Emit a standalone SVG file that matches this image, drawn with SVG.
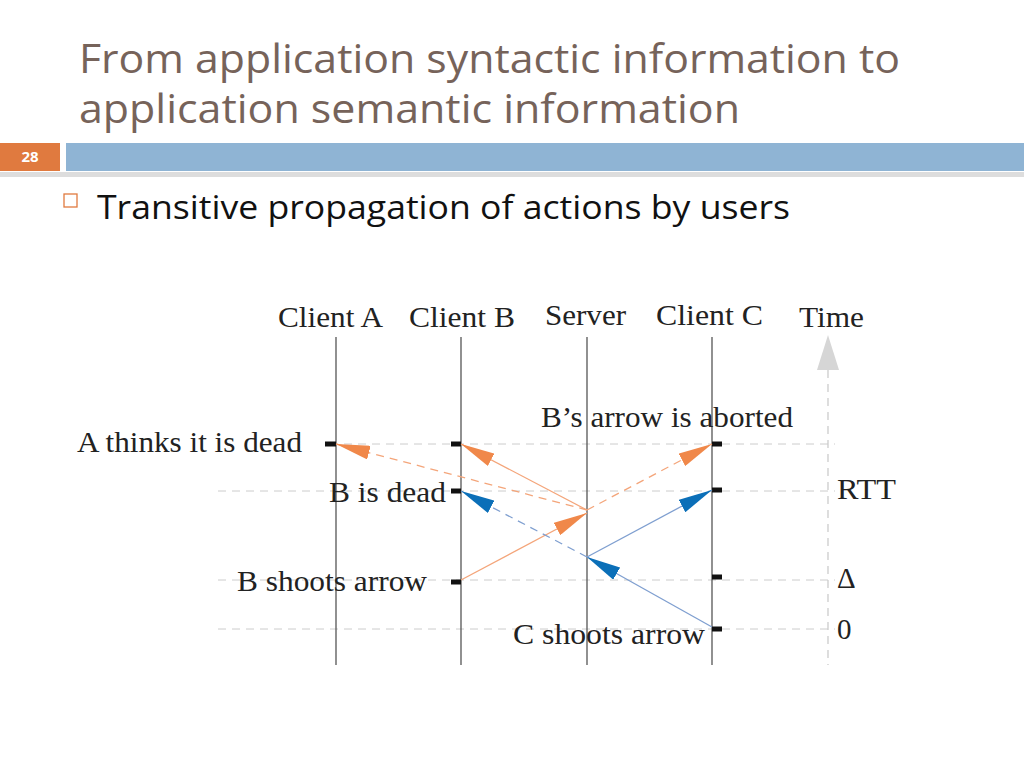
<svg xmlns="http://www.w3.org/2000/svg" width="1024" height="768" viewBox="0 0 1024 768">
<defs>
<marker id="mo" viewBox="0 0 34 14" refX="34" refY="7" markerWidth="34" markerHeight="14" markerUnits="userSpaceOnUse" orient="auto"><path d="M0,0 L34,7 L0,14 z" fill="#f0884a"/></marker>
<marker id="mb" viewBox="0 0 34 14" refX="34" refY="7" markerWidth="34" markerHeight="14" markerUnits="userSpaceOnUse" orient="auto"><path d="M0,0 L34,7 L0,14 z" fill="#0b6fb8"/></marker>
</defs>
<style>
.t{font-family:"Liberation Serif",serif;font-size:29px;fill:#222}
.life{stroke:#555;stroke-width:1.3}
.grid{stroke:#ccc;stroke-width:1;stroke-dasharray:8 6}
.tick{stroke:#111;stroke-width:5}
.o{stroke:#f4a57a;stroke-width:1.3;fill:none}
.b{stroke:#7f9fd0;stroke-width:1.3;fill:none}
.d{stroke-dasharray:8 6}
</style>
<rect width="1024" height="768" fill="#fff"/>
<text x="79" y="73" font-family="Open Sans,sans-serif" font-size="40" fill="#76635a" textLength="821" lengthAdjust="spacingAndGlyphs">From application syntactic information to</text>
<text x="79" y="123" font-family="Open Sans,sans-serif" font-size="40" fill="#76635a" textLength="661" lengthAdjust="spacingAndGlyphs">application semantic information</text>
<rect x="0" y="172" width="1024" height="5" fill="#ddd"/>
<rect x="0" y="143" width="60" height="28" fill="#e07a3f"/>
<rect x="66" y="143" width="958" height="28" fill="#8fb4d4"/>
<text x="30" y="162" text-anchor="middle" font-family="Open Sans,sans-serif" font-weight="bold" font-size="15" fill="#fff">28</text>
<rect x="64" y="194" width="13" height="13" fill="none" stroke="#e07a3f" stroke-width="1.3"/>
<text x="97" y="219" font-family="Open Sans,sans-serif" font-size="33" fill="#111" textLength="693" lengthAdjust="spacingAndGlyphs">Transitive propagation of actions by users</text>
<g id="grid">
<line class="grid" x1="330" y1="444" x2="835" y2="444"/>
<line class="grid" x1="218" y1="491" x2="835" y2="491"/>
<line class="grid" x1="218" y1="580" x2="835" y2="580"/>
<line class="grid" x1="218" y1="629" x2="835" y2="629"/>
</g>
<g id="time">
<line x1="828" y1="370" x2="828" y2="665" stroke="#ccc" stroke-width="1.3" stroke-dasharray="8 6"/>
<path d="M817,370 L828,335 L839,370 z" fill="#d6d6d6"/>
<text class="t" x="799" y="327" textLength="65" lengthAdjust="spacingAndGlyphs">Time</text>
</g>
<g id="lifelines">
<line class="life" x1="336" y1="337" x2="336" y2="665"/>
<line class="life" x1="461" y1="337" x2="461" y2="665"/>
<line class="life" x1="587" y1="337" x2="587" y2="665"/>
<line class="life" x1="712" y1="337" x2="712" y2="665"/>
<text class="t" x="278" y="327" textLength="105" lengthAdjust="spacingAndGlyphs">Client A</text>
<text class="t" x="409" y="327" textLength="106" lengthAdjust="spacingAndGlyphs">Client B</text>
<text class="t" x="545" y="325" textLength="81" lengthAdjust="spacingAndGlyphs">Server</text>
<text class="t" x="656" y="325" textLength="107" lengthAdjust="spacingAndGlyphs">Client C</text>
</g>
<g id="ticks">
<line class="tick" x1="325" y1="444" x2="336" y2="444"/>
<line class="tick" x1="451" y1="444" x2="461" y2="444"/>
<line class="tick" x1="451" y1="491" x2="461" y2="491"/>
<line class="tick" x1="451" y1="582" x2="461" y2="582"/>
<line class="tick" x1="712" y1="444" x2="722" y2="444"/>
<line class="tick" x1="712" y1="490" x2="722" y2="490"/>
<line class="tick" x1="712" y1="577" x2="722" y2="577"/>
<line class="tick" x1="712" y1="629" x2="722" y2="629"/>
</g>
<g id="connectors">
<line class="o d" x1="587" y1="510" x2="336" y2="444" marker-end="url(#mo)"/>
<line class="o" x1="587" y1="510" x2="461" y2="444" marker-end="url(#mo)"/>
<line class="o" x1="461" y1="580" x2="587" y2="513" marker-end="url(#mo)"/>
<line class="o d" x1="587" y1="510" x2="712" y2="444" marker-end="url(#mo)"/>
<line class="b d" x1="587" y1="557" x2="461" y2="491" marker-end="url(#mb)"/>
<line class="b" x1="587" y1="557" x2="712" y2="490" marker-end="url(#mb)"/>
<line class="b" x1="712" y1="627" x2="587" y2="557" marker-end="url(#mb)"/>
</g>
<g id="labels">
<text class="t" x="77" y="452" textLength="225" lengthAdjust="spacingAndGlyphs">A thinks it is dead</text>
<text class="t" x="329" y="502" textLength="117" lengthAdjust="spacingAndGlyphs">B is dead</text>
<text class="t" x="237" y="591" textLength="190" lengthAdjust="spacingAndGlyphs">B shoots arrow</text>
<text class="t" x="541" y="427" textLength="252" lengthAdjust="spacingAndGlyphs">B’s arrow is aborted</text>
<text class="t" x="513" y="644" textLength="192" lengthAdjust="spacingAndGlyphs">C shoots arrow</text>
<text class="t" x="837" y="499" textLength="59" lengthAdjust="spacingAndGlyphs">RTT</text>
<text class="t" x="837" y="588">Δ</text>
<text class="t" x="837" y="639">0</text>
</g>
</svg>
